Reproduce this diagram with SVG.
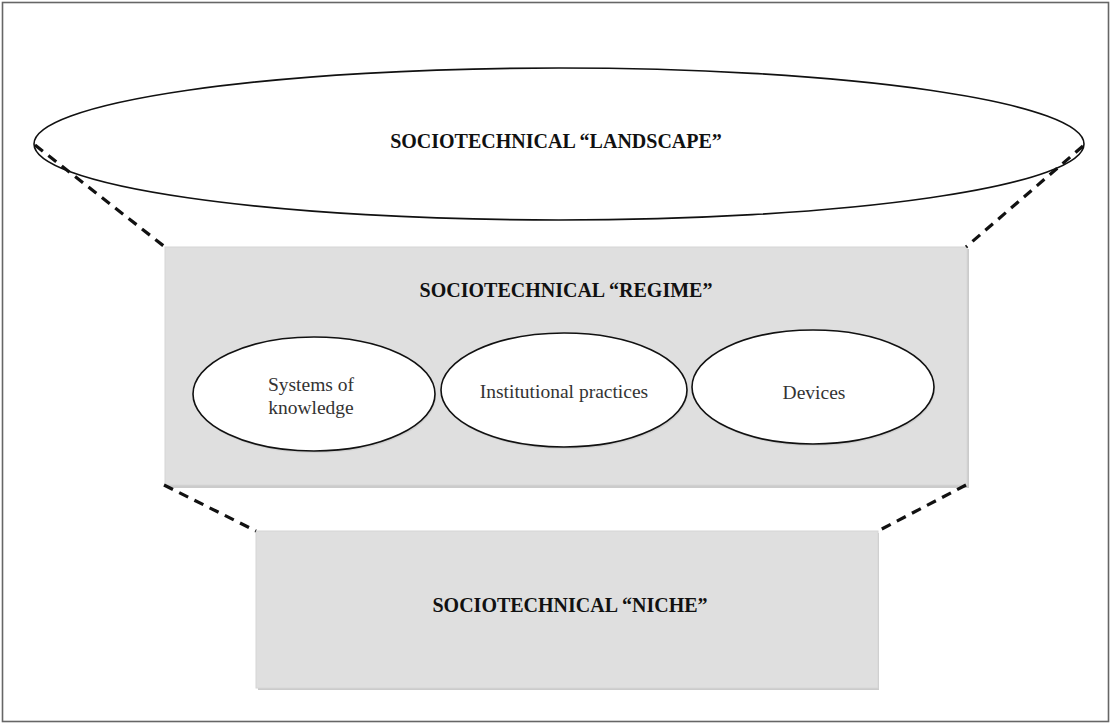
<svg xmlns="http://www.w3.org/2000/svg" width="1111" height="725" viewBox="0 0 1111 725">
<defs>
<style>
.bold{font-family:"Liberation Serif","Times New Roman",serif;font-weight:bold;font-size:20px;fill:#111;text-anchor:middle}
.reg{font-family:"Liberation Serif","Times New Roman",serif;font-size:19.5px;fill:#333;text-anchor:middle}
.box{fill:#dfdfdf;stroke:#d6d6d6;stroke-width:1}
.shadow{fill:#cbcbcb}
.ell{fill:#fff;stroke:#111;stroke-width:1.6}
.dash{stroke:#111;stroke-width:3.2;stroke-dasharray:10 7;fill:none}
</style>
</defs>
<rect x="0" y="0" width="1111" height="725" fill="#fff"/>
<rect x="2.5" y="2.5" width="1106" height="719" fill="none" stroke="#666" stroke-width="1.6"/>

<g id="landscape">
<ellipse class="ell" cx="559" cy="144" rx="525" ry="76"/>
<text class="bold" x="556" y="148">SOCIOTECHNICAL “LANDSCAPE”</text>
</g>

<g id="regime">
<rect class="shadow" x="167" y="249" width="802" height="239"/>
<rect class="box" x="165" y="247" width="802" height="238"/>
<text class="bold" x="566" y="297">SOCIOTECHNICAL “REGIME”</text>
</g>

<g id="systems">
<ellipse cx="315" cy="396" rx="121" ry="57" fill="#c4c4c4" opacity="0.6"/>
<ellipse class="ell" cx="314" cy="394" rx="121" ry="57"/>
<text class="reg" x="311" y="391">Systems of</text>
<text class="reg" x="311" y="414">knowledge</text>
</g>

<g id="institutional">
<ellipse cx="565" cy="392" rx="123" ry="57" fill="#c4c4c4" opacity="0.6"/>
<ellipse class="ell" cx="564" cy="390" rx="123" ry="57"/>
<text class="reg" x="564" y="398">Institutional practices</text>
</g>

<g id="devices">
<ellipse cx="814" cy="389" rx="121" ry="57" fill="#c4c4c4" opacity="0.6"/>
<ellipse class="ell" cx="813" cy="387" rx="121" ry="57"/>
<text class="reg" x="814" y="399">Devices</text>
</g>

<g id="niche">
<rect class="shadow" x="258" y="533" width="621" height="157"/>
<rect class="box" x="256" y="531" width="622" height="157"/>
<text class="bold" x="570" y="612">SOCIOTECHNICAL “NICHE”</text>
</g>

<g id="connectors">
<line class="dash" x1="35" y1="145" x2="165" y2="247"/>
<line class="dash" x1="1083" y1="146" x2="966" y2="247"/>
<line class="dash" x1="164" y1="485" x2="256" y2="531"/>
<line class="dash" x1="966" y1="485" x2="878" y2="531"/>
</g>
</svg>
